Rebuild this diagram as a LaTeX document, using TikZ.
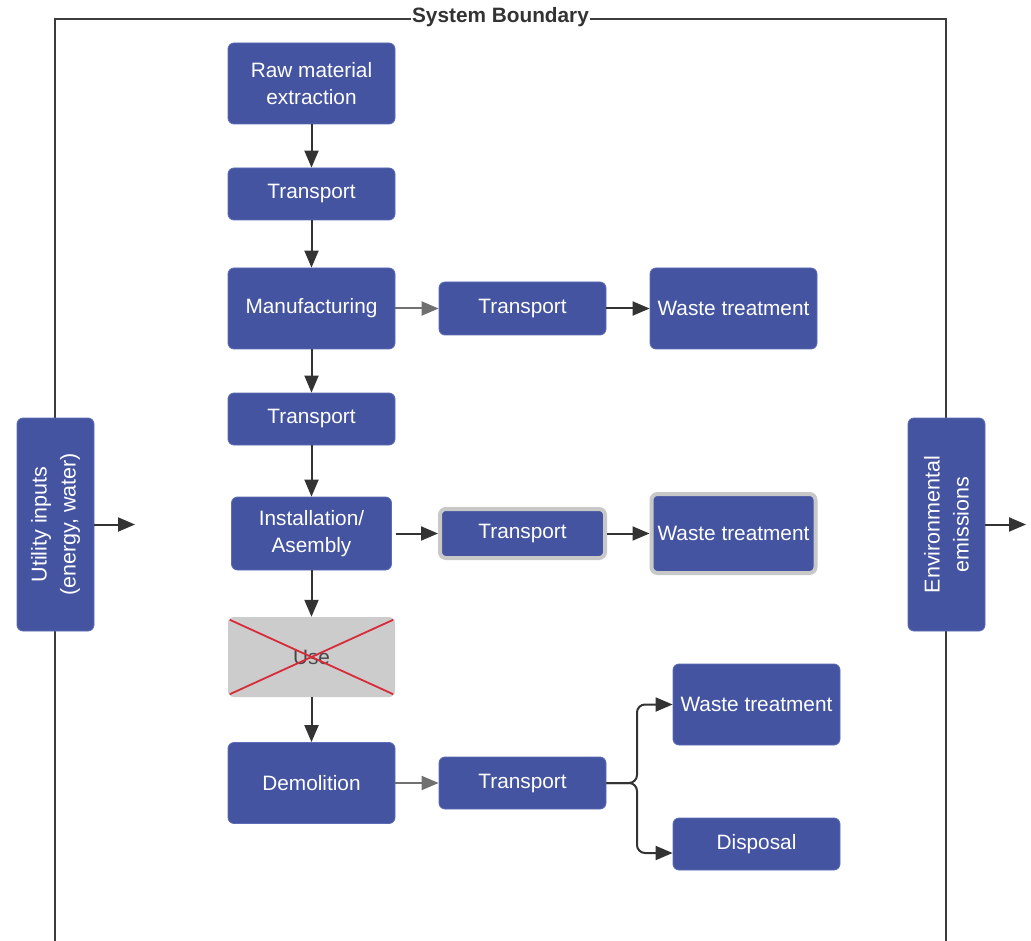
\documentclass[tikz,border=0pt]{standalone}
\usepackage{fontspec}
\setmainfont{Liberation Sans}
\usetikzlibrary{arrows.meta}
\definecolor{boxblue}{HTML}{4454A0}
\definecolor{boxedge}{HTML}{5C6CB6}
\definecolor{arr}{HTML}{333333}
\definecolor{arrg}{HTML}{707070}
\definecolor{usegray}{HTML}{CCCCCC}
\definecolor{xred}{HTML}{D82B3A}
\definecolor{halo}{HTML}{C8C8C8}
\definecolor{bline}{HTML}{3C3C3C}
\tikzset{
  blk/.style={rectangle, rounded corners=6pt, fill=boxblue, draw=boxedge, line width=0.8pt,
    text=white, align=center, inner sep=0pt, font=\fontsize{20.8}{27}\selectfont},
  haloblk/.style={blk, draw=halo, line width=4pt},
  sidetext/.style={rotate=90, text=white, align=center, font=\fontsize{21.5}{29}\selectfont},
  flow/.style={draw=arr, line width=2pt, -{Triangle[length=17pt,width=14pt]}},
  flowg/.style={flow, draw=arrg},
  boundary/.style={draw=bline, line width=2pt},
}
\begin{document}
\begin{tikzpicture}[x=1pt,y=-1pt]
\useasboundingbox[fill=white] (0,0) rectangle (1031,941);
% system boundary
\coordinate (bl) at (55,941);
\coordinate (tl) at (55,19);
\coordinate (tr) at (946,19);
\coordinate (br) at (946,941);
\draw[boundary] (bl) -- (tl) -- (tr) -- (br);
\node[fill=white, inner sep=1.5pt, text=arr, font=\fontsize{20.8}{24}\selectfont\bfseries] (title) at (500.5,17.5) {System Boundary};

% main column
\node[blk, minimum width=167pt, minimum height=81pt] (raw) at (311.5,83.5) {Raw material\\extraction};
\node[blk, minimum width=167pt, minimum height=52pt] (t1) at (311.5,194) {Transport};
\node[blk, minimum width=167pt, minimum height=81pt] (manu) at (311.5,308.5) {Manufacturing};
\node[blk, minimum width=167pt, minimum height=52pt] (t2) at (311.5,419) {Transport};
\node[blk, minimum width=160pt, minimum height=73pt] (inst) at (311.5,533.5) {Installation/\\Asembly};
\node[rectangle, rounded corners=6pt, fill=usegray, inner sep=0pt, minimum width=167pt, minimum height=80pt,
  text=arr!90, font=\fontsize{20.8}{27}\selectfont] (use) at (311.5,657) {Use};
\draw[xred, line width=1.8pt] ([shift={(2pt,-3pt)}]use.north west) -- ([shift={(-2pt,3pt)}]use.south east);
\draw[xred, line width=1.8pt] ([shift={(2pt,3pt)}]use.south west) -- ([shift={(-2pt,-3pt)}]use.north east);
\node[blk, minimum width=167pt, minimum height=81pt] (demo) at (311.5,783) {Demolition};

% branches
\node[blk, minimum width=167pt, minimum height=53pt] (tm) at (522.5,308.5) {Transport};
\node[blk, minimum width=167pt, minimum height=81pt] (w1) at (733.5,308.5) {Waste treatment};
\node[haloblk, minimum width=165pt, minimum height=49pt] (t3) at (522.5,533.5) {Transport};
\node[haloblk, minimum width=164pt, minimum height=79pt] (w2) at (733.5,533.5) {Waste treatment};
\node[blk, minimum width=167pt, minimum height=52pt] (t4) at (522.5,783) {Transport};
\node[blk, minimum width=167pt, minimum height=81pt] (w3) at (756.5,704.5) {Waste treatment};
\node[blk, minimum width=167pt, minimum height=52pt] (disp) at (756.5,844) {Disposal};

% side boxes
\node[blk, minimum width=77pt, minimum height=213pt] (util) at (55.5,524.5) {};
\node[sidetext] (utilt) at (util.center) {Utility inputs\\(energy, water)};
\node[blk, minimum width=77pt, minimum height=213pt] (env) at (946.5,524.5) {};
\node[sidetext] (envt) at (env.center) {Environmental\\emissions};
\coordinate (ua) at (135,524.5);
\coordinate (ea) at (1026,524.5);
\draw[flow] (util.east) -- (ua);
\draw[flow] (env.east) -- (ea);

% vertical flow
\draw[flow] (raw.south) -- (t1.north);
\draw[flow] (t1.south) -- (manu.north);
\draw[flow] (manu.south) -- (t2.north);
\draw[flow] (t2.south) -- (inst.north);
\draw[flow] (inst.south) -- (use.north);
\draw[flow] (use.south) -- (demo.north);

% horizontal flow
\draw[flowg] (manu.east) -- (tm.west);
\draw[flow] (tm.east) -- (w1.west);
\draw[flow] ([xshift=4pt]inst.east) -- (t3.west);
\draw[flow] (t3.east) -- (w2.west);
\draw[flowg] (demo.east) -- (t4.west);
\coordinate (j) at (637,783);
\coordinate (dj) at (637,853);
\draw[flow, rounded corners=8pt] (t4.east) -- (j) -- (j |- w3.west) -- (w3.west);
\draw[flow, rounded corners=8pt] (t4.east) -- (j) -- (dj) -- ([yshift=-9pt]disp.west);
\end{tikzpicture}
\end{document}
